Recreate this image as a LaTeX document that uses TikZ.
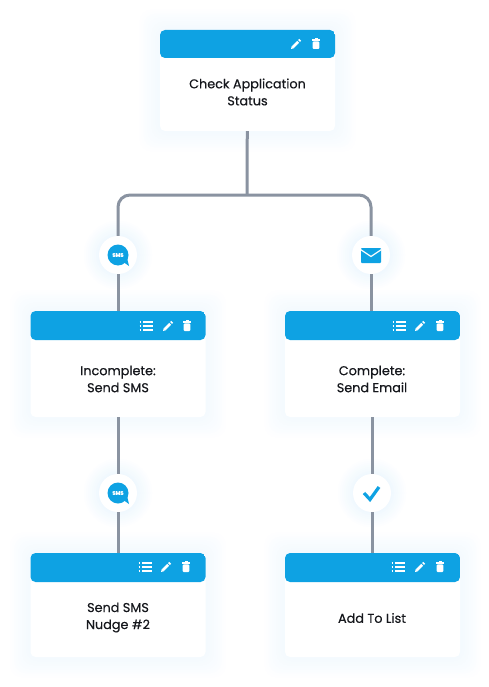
\documentclass[tikz,border=0pt]{standalone}
\usepackage{fontspec}
\setmainfont{Poppins}[FakeBold=0.35]
\usetikzlibrary{positioning,calc,backgrounds}
\definecolor{wfblue}{HTML}{0EA2E3}
\definecolor{wfline}{HTML}{8A93A1}
\definecolor{wfglow}{HTML}{3FA9F5}
\definecolor{wftext}{HTML}{15171C}
\tikzset{wfcard/.style={rectangle, rounded corners=5pt, fill=white, inner sep=0pt, minimum width=175pt, minimum height=#1}}
\tikzset{wfbar/.style={path picture={\fill[wfblue] (path picture bounding box.north west) rectangle ([yshift=-#1]path picture bounding box.north east);}}}
\tikzset{wftitle/.style={align=center, inner sep=0pt, text=wftext, font=\fontsize{12.8}{17}\selectfont}}
\tikzset{wfbadge/.style={circle, fill=white, inner sep=0pt, minimum size=38pt}}
\tikzset{wfedge/.style={draw=wfline, line width=3pt}}
\tikzset{wfsms/.style={text=white, inner sep=0pt, font=\fontsize{5.2}{6}\selectfont\bfseries}}
\tikzset{pencilicon/.pic={
  \fill[white] (-5,5) -- (-4.2,1.9) -- (-1.9,4.2) -- cycle;
  \draw[white, line width=2.7pt] (-3.2,3.2) -- (2.2,-2.2);
  \draw[white, line width=2.7pt] (3,-3) -- (4.2,-4.2);
}}
\tikzset{trashicon/.pic={
  \fill[white] (-4,-4.8) rectangle (4,-3.4);
  \fill[white] (-1.5,-5.6) rectangle (1.5,-4.5);
  \fill[white, rounded corners=1pt] (-3.3,-2.6) rectangle (3.3,5);
}}
\tikzset{listicon/.pic={
  \foreach \yrow in {-4,0,4} {
    \draw[white, line width=1.1pt] (-6.5,\yrow) -- (-4.6,\yrow);
    \draw[white, line width=1.1pt] (-2.8,\yrow) -- (6.5,\yrow);
  }
}}
\tikzset{smsicon/.pic={
  \fill[wfblue] (0,0) circle (10.5);
  \fill[wfblue] (4,6) -- (11,11) -- (9,3) -- cycle;
}}
\begin{document}
\begin{tikzpicture}[x=1pt,y=-1pt]
  \useasboundingbox (0,0) rectangle (489,687);

  \node[wfcard=101pt, wfbar=28pt] (check) at (247.5,80.5) {};
  \node[wfcard=106pt, wfbar=29pt] (incomplete) at (118,364) {};
  \node[wfcard=106pt, wfbar=29pt] (complete) at (372.5,364) {};
  \node[wfcard=104pt, wfbar=29pt] (nudge) at (118,605) {};
  \node[wfcard=104pt, wfbar=29pt] (addlist) at (372.5,605) {};

  \node[wfbadge] (smsbadge) at (118,255) {};
  \node[wfbadge] (mailbadge) at (371,255) {};
  \node[wfbadge] (nudgebadge) at (118,493) {};
  \node[wfbadge] (donebadge) at (372,493) {};
  \coordinate (split) at (247,195);

  \begin{pgfonlayer}{background}
    \fill[white] (0,0) rectangle (489,687);
    \foreach \cardname in {check,incomplete,complete,nudge,addlist}
      \foreach \grow/\tint in {20/0.6,18/1.2,16/1.8,14/2.4,12/3,10/3.6,8/4.2,6/4.8,4/5.4,2/6}
        \fill[wfglow!\tint!white, rounded corners=12pt] ($(\cardname.north west)+(-\grow,-\grow)$) rectangle ($(\cardname.south east)+(\grow,\grow)$);
    \foreach \badgename in {smsbadge,mailbadge,nudgebadge,donebadge}
      \foreach \grow/\tint in {34/1,32/2,30/3,28/4,26/5,24/6,22/7,20/8}
        \fill[wfglow!\tint!white] (\badgename) circle (\grow);
  \end{pgfonlayer}

  \draw[wfedge] (check) -- (split);
  \draw[wfedge, rounded corners=12pt] (smsbadge) |- (split) -| (mailbadge);
  \draw[wfedge] (smsbadge) -- (smsbadge |- incomplete.north);
  \draw[wfedge] (mailbadge) -- (mailbadge |- complete.north);
  \draw[wfedge] (incomplete) -- (nudgebadge);
  \draw[wfedge] (nudgebadge) -- (nudge);
  \draw[wfedge] (donebadge |- complete.south) -- (donebadge);
  \draw[wfedge] (donebadge) -- (donebadge |- addlist.north);

  \node[wftitle] (checktext) at (247.5,92) {Check Application\\Status};
  \node[wftitle] (incompletetext) at (118,379) {Incomplete:\\Send SMS};
  \node[wftitle] (completetext) at (372,379) {Complete:\\Send Email};
  \node[wftitle] (nudgetext) at (118,617.5) {Send SMS\\Nudge \#2};
  \node[wftitle] (addlisttext) at (372,618) {Add To List};

  % header icons
  \pic at (296,44) {pencilicon};
  \pic at (316,44) {trashicon};
  \pic at (146,326) {listicon};
  \pic at (168,326) {pencilicon};
  \pic at (187,326) {trashicon};
  \pic at (399,326) {listicon};
  \pic at (420,326) {pencilicon};
  \pic at (440,326) {trashicon};
  \pic at (145,567) {listicon};
  \pic at (166,567) {pencilicon};
  \pic at (186,567) {trashicon};
  \pic at (398,567) {listicon};
  \pic at (420,567) {pencilicon};
  \pic at (440,567) {trashicon};

  % badge icons
  \pic at (smsbadge) {smsicon};
  \node[wfsms] at (smsbadge) {SMS};
  \pic at (nudgebadge) {smsicon};
  \node[wfsms] at (nudgebadge) {SMS};
  \fill[wfblue, rounded corners=0.8pt] (361,248) rectangle (381,263);
  \draw[white, line width=1.2pt] (360.5,249.5) -- (371,256.5) -- (381.5,249.5);
  \draw[wfblue, line width=3.2pt] (364,493) -- (370,499.5) -- (379,487);
\end{tikzpicture}
\end{document}
